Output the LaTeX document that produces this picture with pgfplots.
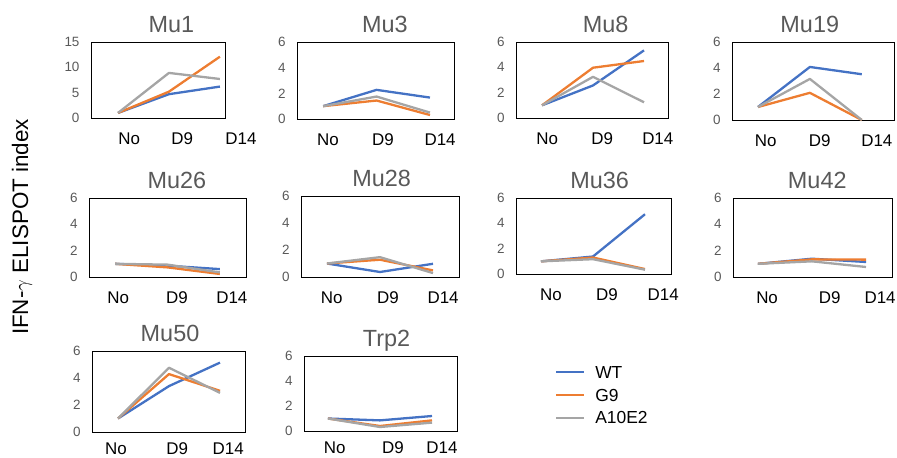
\documentclass[border=0pt]{standalone}
\usepackage{fontspec}
\setmainfont{Liberation Sans}
\usepackage{pgfplots}
\pgfplotsset{compat=1.18}
\definecolor{wtc}{HTML}{4472C4}
\definecolor{g9c}{HTML}{ED7D31}
\definecolor{ac}{HTML}{A5A5A5}
\definecolor{tgray}{HTML}{595959}
\pgfplotsset{
  panel/.style={
    scale only axis, anchor=south west, ymin=0, clip=false,
    axis line style={black, line width=0.75bp},
    major tick length=0pt, tick style={draw=none},
    xtick pos=bottom, ytick pos=left,
    xticklabels={No,D9,D14},
    title style={font=\fontsize{23.5}{26}\selectfont, text=tgray, anchor=base, yshift=4bp},
    xticklabel style={font=\fontsize{17}{19}\selectfont, yshift=-11bp},
    yticklabel style={font=\fontsize{13.5}{15}\selectfont, text=tgray, xshift=-8bp},
    /pgf/number format/assume math mode=true,
    every axis plot/.append style={line width=2.3bp, mark=none, line join=round},
  },
  wt/.style={wtc}, g9/.style={g9c}, aa/.style={ac},
}
\begin{document}
\begin{tikzpicture}
\useasboundingbox (0,0) rectangle (897bp,-458bp);
\node[rotate=90, font=\fontsize{22.5}{24}\selectfont] at (22bp,-227bp) {IFN-$\gamma$ ELISPOT index};
% Mu1
\begin{axis}[panel, at={(91bp,-118bp)}, width=134bp, height=76bp,
  xmin=-0.53, xmax=2.1, ymax=15, ytick={0,5,10,15},
  xtick={-0.06,0.98,2.04}, xticklabel style={anchor=north west},
  title={Mu1}, title style={at={(0.60,1)}}]
\addplot[wt] coordinates {(0,1)(1,4.7)(2,6.2)};
\addplot[g9] coordinates {(0,1)(1,5.2)(2,12.1)};
\addplot[aa] coordinates {(0,1)(1,8.9)(2,7.7)};
\end{axis}
% Mu3
\begin{axis}[panel, at={(297bp,-119bp)}, width=157bp, height=77bp,
  xmin=-0.49, xmax=2.45, ymax=6, ytick={0,2,4,6},
  xtick={0.09,1.12,2.19},
  title={Mu3}, title style={at={(0.56,1)}}]
\addplot[wt] coordinates {(0,1)(1,2.27)(2,1.67)};
\addplot[g9] coordinates {(0,1)(1,1.44)(2,0.31)};
\addplot[aa] coordinates {(0,1)(1,1.75)(2,0.5)};
\end{axis}
% Mu8
\begin{axis}[panel, at={(516bp,-118bp)}, width=152bp, height=76bp,
  xmin=-0.51, xmax=2.47, ymax=6, ytick={0,2,4,6},
  xtick={0.1,1.18,2.27},
  title={Mu8}, title style={at={(0.59,1)}}]
\addplot[wt] coordinates {(0,1)(1,2.57)(2,5.34)};
\addplot[g9] coordinates {(0,1)(1,3.97)(2,4.5)};
\addplot[aa] coordinates {(0,1)(1,3.25)(2,1.24)};
\end{axis}
% Mu19
\begin{axis}[panel, at={(732bp,-120bp)}, width=162bp, height=78bp,
  xmin=-0.5, xmax=2.62, ymax=6, ytick={0,2,4,6},
  xtick={0.15,1.19,2.29},
  title={Mu19}, title style={at={(0.48,1)}}]
\addplot[wt] coordinates {(0,1)(1,4.08)(2,3.52)};
\addplot[g9] coordinates {(0,1)(1,2.09)(2,0)};
\addplot[aa] coordinates {(0,1)(1,3.16)(2,0)};
\end{axis}
% Mu26
\begin{axis}[panel, at={(89bp,-277bp)}, width=157bp, height=79bp,
  xmin=-0.5, xmax=2.5, ymax=6, ytick={0,2,4,6},
  xtick={0.06,1.18,2.23},
  title={Mu26}, title style={at={(0.56,1)}}]
\addplot[wt] coordinates {(0,1)(1,0.86)(2,0.6)};
\addplot[g9] coordinates {(0,1)(1,0.73)(2,0.23)};
\addplot[aa] coordinates {(0,1)(1,0.94)(2,0.35)};
\end{axis}
% Mu28
\begin{axis}[panel, at={(301bp,-277bp)}, width=158bp, height=81bp,
  xmin=-0.49, xmax=2.49, ymax=6, ytick={0,2,4,6},
  xtick={0.09,1.15,2.19},
  title={Mu28}, title style={at={(0.51,1)}}]
\addplot[wt] coordinates {(0,1)(1,0.37)(2,0.98)};
\addplot[g9] coordinates {(0,1)(1,1.28)(2,0.49)};
\addplot[aa] coordinates {(0,1)(1,1.47)(2,0.29)};
\end{axis}
% Mu36
\begin{axis}[panel, at={(516bp,-274bp)}, width=155bp, height=76bp,
  xmin=-0.48, xmax=2.5, ymax=6, ytick={0,2,4,6},
  xtick={0.19,1.27,2.35},
  title={Mu36}, title style={at={(0.54,1)}}]
\addplot[wt] coordinates {(0,1)(1,1.38)(2,4.72)};
\addplot[g9] coordinates {(0,1)(1,1.3)(2,0.39)};
\addplot[aa] coordinates {(0,1)(1,1.17)(2,0.34)};
\end{axis}
% Mu42
\begin{axis}[panel, at={(733bp,-277bp)}, width=159bp, height=79bp,
  xmin=-0.46, xmax=2.48, ymax=6, ytick={0,2,4,6},
  xtick={0.17,1.33,2.26},
  title={Mu42}, title style={at={(0.53,1)}}]
\addplot[wt] coordinates {(0,1)(1,1.39)(2,1.14)};
\addplot[g9] coordinates {(0,1)(1,1.34)(2,1.32)};
\addplot[aa] coordinates {(0,1)(1,1.19)(2,0.76)};
\end{axis}
% Mu50
\begin{axis}[panel, at={(92bp,-432bp)}, width=153bp, height=81bp,
  xmin=-0.51, xmax=2.49, ymax=6, ytick={0,2,4,6},
  xtick={-0.04,1.16,2.16}, xticklabel style={yshift=3.5bp},
  title={Mu50}, title style={at={(0.51,1)}}]
\addplot[wt] coordinates {(0,1)(1,3.4)(2,5.14)};
\addplot[g9] coordinates {(0,1)(1,4.29)(2,3.05)};
\addplot[aa] coordinates {(0,1)(1,4.76)(2,2.9)};
\end{axis}
% Trp2
\begin{axis}[panel, at={(304bp,-431bp)}, width=153bp, height=75bp,
  xmin=-0.46, xmax=2.48, ymax=6, ytick={0,2,4,6},
  xtick={0.13,1.25,2.19}, xticklabel style={yshift=3.5bp},
  title={Trp2}, title style={at={(0.54,1)}},
  legend style={draw=none, fill=none, at={(1.64,0.89)}, anchor=north west,
    inner sep=0pt, row sep=6.5bp, font=\fontsize{17.5}{19}\selectfont,
    nodes={inner sep=2bp, text depth=0pt}},
  legend cell align=left,
  legend image code/.code={\draw[#1, line width=2bp] (0bp,0bp) -- (28bp,0bp); \path (36bp,0bp);}]
\addplot[wt] coordinates {(0,1)(1,0.85)(2,1.2)};
\addplot[g9] coordinates {(0,1)(1,0.4)(2,0.85)};
\addplot[aa] coordinates {(0,1)(1,0.32)(2,0.67)};
\legend{WT,G9,A10E2}
\end{axis}
\end{tikzpicture}
\end{document}
